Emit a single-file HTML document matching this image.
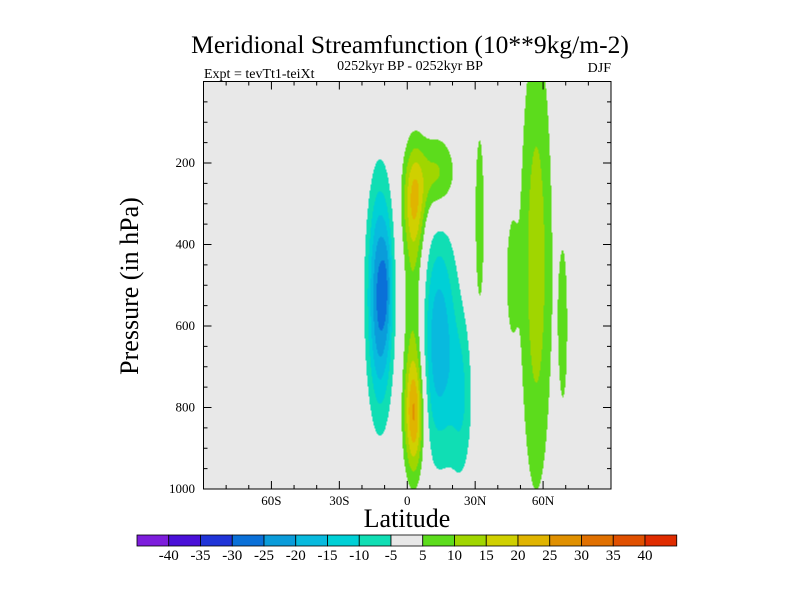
<!DOCTYPE html>
<html><head><meta charset="utf-8">
<style>
body{margin:0;background:#fff;width:800px;height:600px;overflow:hidden;}
svg{position:absolute;left:0;top:0;}
text{font-family:"Liberation Serif",serif;fill:#000;}
</style></head>
<body>
<svg id="chart" width="800" height="600">
<text x="410" y="53" font-size="25.5" text-anchor="middle">Meridional Streamfunction (10**9kg/m-2)</text>
<text x="410" y="70" font-size="14" text-anchor="middle">0252kyr BP - 0252kyr BP</text>
<text x="204" y="78" font-size="14">Expt = tevTt1-teiXt</text>
<text x="611" y="72" font-size="14" text-anchor="end">DJF</text>
<text transform="translate(138,286) rotate(-90)" font-size="26" text-anchor="middle">Pressure (in hPa)</text>
<text x="407" y="527" font-size="26" text-anchor="middle">Latitude</text>
<rect x="203.5" y="81.5" width="407.5" height="407.5" fill="#e8e8e8"/>
<g id="field"></g>
<g id="axes"></g>
<g id="cbar"></g>
</svg>
<script>
// Blob-based field description (data coordinates: latitude, pressure hPa)
const blobLat   = [-12, 3, 3, 3, 13, 14, 24, 32, 57, 46, 69, -9];
const blobP     = [530, 290, 820, 560, 230, 640, 780, 340, 450, 480, 600, 500];
const blobSLat  = [3.8, 3.5, 3, 3.3, 6, 5.5, 3.5, 1.8, 5, 2.2, 2, 1.5];
const blobSP    = [185, 90, 100, 220, 70, 190, 140, 200, 400, 130, 200, 90];
const blobAmp   = [-27, 16, 22, 10, 12, -19, -9, 8, 13, 6.5, 6.5, -6];
const levels = [-40,-35,-30,-25,-20,-15,-10,-5,5,10,15,20,25,30,35,40];
const colors = ["#7d1ddc","#4a10d8","#2034d8","#0a70d8","#0a9cda","#08bade","#00d0d6","#10deb4","#e8e8e8","#5cdc1c","#a0d600","#d0d000","#e0b400","#e09000","#e07000","#e05000","#e02c00"];
const xTicks = [-60,-30,0,30,60];
const xTickLabels = ["60S","30S","0","30N","60N"];
const yTicks = [200,400,600,800,1000];

const X0=203.5,X1=611,Y0=81.5,Y1=489;
const xs = lat => X0 + (lat+90)/180*(X1-X0);
const ys = p => Y0 + p/1000*(Y1-Y0);
const latOf = x => (x-X0)/(X1-X0)*180-90;
const pOf = y => (y-Y0)/(Y1-Y0)*1000;
const NS="http://www.w3.org/2000/svg";
function field(lat,p){let v=0;for(let i=0;i<blobLat.length;i++){const a=(lat-blobLat[i])/blobSLat[i],b=(p-blobP[i])/blobSP[i];v+=blobAmp[i]*Math.exp(-0.5*(a*a+b*b));}return v;}
function colorOf(v){let k=0;while(k<levels.length&&v>=levels[k])k++;return colors[k];}
const cv=document.createElement('canvas');const W=Math.round(X1-X0),H=Math.round(Y1-Y0);
cv.width=W;cv.height=H;const ctx=cv.getContext('2d');
for(let j=0;j<H;j++){for(let i=0;i<W;i++){const v=field(latOf(X0+i+0.5),pOf(Y0+j+0.5));const c=colorOf(v);if(c!=="#e8e8e8"){ctx.fillStyle=c;ctx.fillRect(i,j,1,1);}}}
const img=document.createElementNS(NS,'image');
img.setAttribute('x',X0);img.setAttribute('y',Y0);img.setAttribute('width',W);img.setAttribute('height',H);
img.setAttribute('href',cv.toDataURL());


document.getElementById('field').appendChild(img);
const ax=document.getElementById('axes');let s='';
s+=`<rect x="${X0}" y="${Y0}" width="${X1-X0}" height="${Y1-Y0}" fill="none" stroke="#000" stroke-width="1"/>`;
for(let l=-80;l<=80;l+=10){const x=xs(l);const L=(l%30===0)?8:4;s+=`<line x1="${x}" y1="${Y1}" x2="${x}" y2="${Y1-L}" stroke="#000"/><line x1="${x}" y1="${Y0}" x2="${x}" y2="${Y0+L}" stroke="#000"/>`;}
for(let p=50;p<1000;p+=50){const y=ys(p);const L=(p%200===0)?8:4;s+=`<line x1="${X0}" y1="${y}" x2="${X0+L}" y2="${y}" stroke="#000"/><line x1="${X1}" y1="${y}" x2="${X1-L}" y2="${y}" stroke="#000"/>`;}
ax.innerHTML=s;
xTicks.forEach((l,i)=>{const t=document.createElementNS(NS,'text');t.setAttribute('x',xs(l));t.setAttribute('y',505);t.setAttribute('font-size','13');t.setAttribute('text-anchor','middle');t.textContent=xTickLabels[i];


ax.appendChild(t);});
yTicks.forEach(p=>{const t=document.createElementNS(NS,'text');t.setAttribute('x',195);t.setAttribute('y',ys(p)+4);t.setAttribute('font-size','13');t.setAttribute('text-anchor','end');t.textContent=p;


ax.appendChild(t);});
const cb=document.getElementById('cbar');const bx=137,bw=31.75,by=535,bh=11;
colors.forEach((c,i)=>{const r=document.createElementNS(NS,'rect');r.setAttribute('x',bx+i*bw);r.setAttribute('y',by);r.setAttribute('width',bw);r.setAttribute('height',bh);r.setAttribute('fill',c);r.setAttribute('stroke','#000');r.setAttribute('stroke-width','0.8');


cb.appendChild(r);});
levels.forEach((v,i)=>{const t=document.createElementNS(NS,'text');t.setAttribute('x',bx+(i+1)*bw);t.setAttribute('y',560);t.setAttribute('font-size','15');t.setAttribute('text-anchor','middle');t.textContent=v;


cb.appendChild(t);});
</script>
</body></html>
